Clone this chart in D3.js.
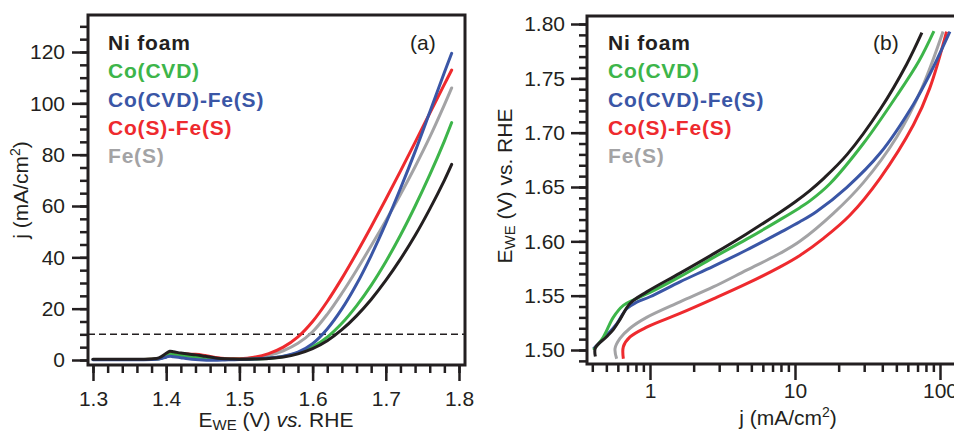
<!DOCTYPE html>
<html>
<head>
<meta charset="utf-8">
<script src="https://cdn.jsdelivr.net/npm/d3@7"></script>
<style>
body{margin:0;background:#fff;}
svg{display:block;font-family:"Liberation Sans",Arial,Helvetica,sans-serif;}
</style>
</head>
<body>
<svg id="chart" width="954" height="434"></svg>
<script>
// 시리즈 이름 / 색상
const seriesNames = ["Ni foam", "Co(CVD)", "Co(CVD)-Fe(S)", "Co(S)-Fe(S)", "Fe(S)"];
const seriesColors = ["#231f20", "#3db54a", "#3a56a6", "#ee2a2e", "#a3a3a5"];

// (a) j vs E  -- common potential grid (V vs RHE)
const potentialA = [1.30, 1.34, 1.38, 1.39, 1.40, 1.405, 1.41, 1.42, 1.43, 1.44, 1.45, 1.46, 1.47, 1.48, 1.49,
                    1.50, 1.52, 1.54, 1.56, 1.58, 1.60, 1.62, 1.64, 1.66, 1.68, 1.70, 1.72, 1.74, 1.76, 1.78, 1.79];
const niFoamA   = [0.3, 0.3, 0.4, 0.8, 2.6, 3.4, 3.2, 2.7, 2.3, 2.0, 1.6, 1.2, 0.7, 0.45, 0.35,
                   0.3, 0.4, 0.6, 1.2, 2.4, 4.4, 7.5, 11.8, 17.2, 23.6, 31.0, 39.3, 48.5, 58.8, 70, 76.2];
const coCvdA    = [0.2, 0.2, 0.3, 0.5, 1.5, 2.2, 2.1, 1.8, 1.5, 1.2, 0.9, 0.6, 0.4, 0.3, 0.3,
                   0.3, 0.4, 0.7, 1.4, 2.8, 5.1, 8.9, 14.3, 21.1, 29.1, 38.3, 48.6, 59.9, 72.1, 85.3, 92.5];
const coCvdFeSA = [0.1, 0.1, 0.2, 0.4, 1.1, 1.5, 1.3, 0.9, 0.5, 0.2, 0.0, -0.1, -0.1, 0.0, 0.1,
                   0.2, 0.4, 0.8, 1.5, 3.1, 6.4, 12.1, 19.9, 29.5, 40.7, 53.2, 66.8, 81.2, 96.5, 112, 119.5];
const coSFeSA   = [0.2, 0.2, 0.3, 0.6, 1.8, 2.5, 2.6, 2.4, 2.3, 2.2, 1.9, 1.4, 0.9, 0.6, 0.5,
                   0.5, 1.1, 2.5, 5.0, 9.0, 15, 22.8, 31.8, 41.6, 51.9, 62.6, 73.6, 84.8, 96.1, 107.4, 113];
const feSA      = [0.2, 0.2, 0.3, 0.5, 1.6, 2.4, 2.3, 2.0, 1.7, 1.4, 1.1, 0.8, 0.5, 0.4, 0.35,
                   0.4, 0.8, 1.8, 3.6, 6.5, 11, 17.8, 26, 35, 44.5, 54.3, 64.5, 75.3, 86.8, 99.4, 106];
const refCurrent = 10; // 점선 (10 mA/cm2)

// (b) E vs log j  -- 각 시리즈별 (j, E)
const niFoamJB   = [0.42, 0.42, 0.50, 0.56, 0.62, 0.73, 0.95, 1.6, 2.7, 4.6, 7.9, 10, 12.6, 15.8, 22.9, 38.9, 58.9, 75];
const niFoamEB   = [1.494, 1.502, 1.512, 1.519, 1.528, 1.543, 1.5535, 1.5705, 1.588, 1.6066, 1.6268, 1.6362, 1.6465, 1.658, 1.680, 1.722, 1.763, 1.792];
const coCvdJB    = [0.407, 0.477, 0.558, 0.655, 0.767, 1.0, 1.61, 2.73, 4.64, 7.9, 10.8, 12.6, 17.4, 29.6, 50.3, 71.6, 90.8];
const coCvdEB    = [1.500, 1.512, 1.530, 1.541, 1.546, 1.553, 1.5675, 1.585, 1.602, 1.620, 1.631, 1.637, 1.653, 1.690, 1.734, 1.766, 1.7935];
const coCvdFeSJB = [0.407, 0.503, 0.589, 0.69, 0.81, 1.0, 1.61, 2.73, 4.64, 7.86, 10.8, 14.1, 22.7, 38.6, 65.5, 85.2, 117];
const coCvdFeSEB = [1.501, 1.5136, 1.524, 1.538, 1.544, 1.549, 1.5627, 1.577, 1.592, 1.608, 1.618, 1.6275, 1.6495, 1.681, 1.726, 1.754, 1.793];
const coSFeSJB   = [0.655, 0.655, 0.728, 0.949, 1.61, 2.73, 4.64, 7.9, 10.8, 15.8, 23.9, 38.6, 65.5, 85, 111];
const coSFeSEB   = [1.492, 1.503, 1.512, 1.521, 1.5336, 1.547, 1.561, 1.5765, 1.587, 1.603, 1.624, 1.658, 1.707, 1.741, 1.793];
const feSJB      = [0.589, 0.574, 0.621, 0.728, 0.949, 1.61, 2.73, 4.64, 7.9, 10.8, 18.4, 29.6, 50.3, 75, 105];
const feSEB      = [1.492, 1.5013, 1.5106, 1.520, 1.530, 1.5443, 1.558, 1.5735, 1.589, 1.600, 1.6257, 1.654, 1.696, 1.741, 1.793];

// tick 값
const ticksAx = [1.3, 1.4, 1.5, 1.6, 1.7, 1.8];
const ticksAy = [0, 20, 40, 60, 80, 100, 120];
const ticksBx = [1, 10, 100];
const ticksBy = [1.50, 1.55, 1.60, 1.65, 1.70, 1.75, 1.80];

const INK = "#231f20";
const FONT = 21;
const svg = d3.select("#chart");
svg.append("rect").attr("width", 954).attr("height", 434).attr("fill", "#fff");

// 축 스타일 공통
function styleAxis(g, major){
    g.select(".domain").remove();
    g.selectAll(".tick line").attr("stroke", INK).attr("stroke-width", 2.5);
    g.selectAll(".tick text").attr("fill", INK).style("font-size", FONT + "px")
        .style("font-family", "'Liberation Sans', Arial, sans-serif");
    if(!major) g.selectAll(".tick text").remove();
}

function legend(x){
    seriesNames.forEach((n, i) => {
        svg.append("text")
            .attr("x", x).attr("y", 50 + i * 28.3)
            .attr("fill", seriesColors[i])
            .style("font-size", FONT + "px").style("font-weight", "bold")
            .style("letter-spacing", "0.8px")
            .text(n);
    });
}

// ---------------- panel (a) ----------------
const FA = {left: 88, right: 465, top: 15, bottom: 365};
const xA = d3.scaleLinear().domain([1.3, 1.8]).range([93, 459]);
const yA = d3.scaleLinear().domain([0, 120]).range([360, 52]);

svg.append("g").attr("transform", `translate(0,${FA.bottom})`)
    .call(d3.axisBottom(xA).tickValues(d3.range(1.30, 1.801, 0.02)).tickSize(8).tickFormat(""))
    .call(g => styleAxis(g, false));
svg.append("g").attr("transform", `translate(0,${FA.bottom})`)
    .call(d3.axisBottom(xA).tickValues(ticksAx).tickSize(16).tickPadding(10).tickFormat(d3.format(".1f")))
    .call(g => styleAxis(g, true));
svg.append("g").attr("transform", `translate(${FA.left},0)`)
    .call(d3.axisLeft(yA).tickValues(d3.range(0, 131, 5)).tickSize(8).tickFormat(""))
    .call(g => styleAxis(g, false));
svg.append("g").attr("transform", `translate(${FA.left},0)`)
    .call(d3.axisLeft(yA).tickValues(ticksAy).tickSize(16).tickPadding(7))
    .call(g => styleAxis(g, true));

// 점선 10 mA/cm2
svg.append("line")
    .attr("x1", FA.left).attr("x2", FA.right)
    .attr("y1", yA(refCurrent)).attr("y2", yA(refCurrent))
    .attr("stroke", INK).attr("stroke-width", 1.5).attr("stroke-dasharray", "7,4");

const curvesA = [niFoamA, coCvdA, coCvdFeSA, coSFeSA, feSA];
const lineA = d3.line().x(d => xA(d[0])).y(d => yA(d[1])).curve(d3.curveCatmullRom.alpha(0.5));
[4, 3, 1, 2, 0].forEach(i => {
    svg.append("path")
        .datum(potentialA.map((e, k) => [e, curvesA[i][k]]))
        .attr("d", lineA).attr("fill", "none")
        .attr("stroke", seriesColors[i]).attr("stroke-width", 3)
        .attr("stroke-linejoin", "round").attr("stroke-linecap", "round");
});

svg.append("rect")
    .attr("x", FA.left).attr("y", FA.top)
    .attr("width", FA.right - FA.left).attr("height", FA.bottom - FA.top)
    .attr("fill", "none").attr("stroke", INK).attr("stroke-width", 3);

legend(108);
svg.append("text").attr("x", 410).attr("y", 50).attr("fill", INK)
    .style("font-size", FONT + "px").text("(a)");

// x 축 제목
const tA = svg.append("text").attr("x", 276).attr("y", 427).attr("text-anchor", "middle")
    .attr("fill", INK).style("font-size", FONT + "px");
tA.append("tspan").text("E");
tA.append("tspan").attr("dy", 3).style("font-size", "15px").text("WE");
tA.append("tspan").attr("dy", -3).text(" (V) ");
tA.append("tspan").style("font-style", "italic").text("vs.");
tA.append("tspan").text(" RHE");

// y 축 제목
const yTA = svg.append("text").attr("transform", "translate(28,190) rotate(-90)")
    .attr("text-anchor", "middle").attr("fill", INK).style("font-size", FONT + "px");
yTA.append("tspan").text("j (mA/cm");
yTA.append("tspan").attr("dy", -8).style("font-size", "14px").text("2");
yTA.append("tspan").attr("dy", 8).text(")");

// ---------------- panel (b) ----------------
const FB = {left: 587, right: 958, top: 16, bottom: 364};
const xB = d3.scaleLog().domain([1, 100]).range([650, 940]);
const yB = d3.scaleLinear().domain([1.50, 1.80]).range([350, 24]);

const minorB = [0.4, 0.5, 0.6, 0.7, 0.8, 0.9, 2, 3, 4, 5, 6, 7, 8, 9, 20, 30, 40, 50, 60, 70, 80, 90];
svg.append("g").attr("transform", `translate(0,${FB.bottom})`)
    .call(d3.axisBottom(xB).tickValues(minorB).tickSize(8).tickFormat(""))
    .call(g => styleAxis(g, false));
svg.append("g").attr("transform", `translate(0,${FB.bottom})`)
    .call(d3.axisBottom(xB).tickValues(ticksBx).tickSize(16).tickPadding(3).tickFormat(d3.format("d")))
    .call(g => styleAxis(g, true));
svg.append("g").attr("transform", `translate(${FB.left},0)`)
    .call(d3.axisLeft(yB).tickValues(d3.range(1.49, 1.805, 0.01)).tickSize(8).tickFormat(""))
    .call(g => styleAxis(g, false));
svg.append("g").attr("transform", `translate(${FB.left},0)`)
    .call(d3.axisLeft(yB).tickValues(ticksBy).tickSize(16).tickPadding(6).tickFormat(d3.format(".2f")))
    .call(g => styleAxis(g, true));

const curvesB = [[niFoamJB, niFoamEB], [coCvdJB, coCvdEB], [coCvdFeSJB, coCvdFeSEB], [coSFeSJB, coSFeSEB], [feSJB, feSEB]];
const lineB = d3.line().x(d => xB(d[0])).y(d => yB(d[1])).curve(d3.curveCatmullRom.alpha(0.5));
[4, 3, 2, 1, 0].forEach(i => {
    const [js, es] = curvesB[i];
    svg.append("path")
        .datum(js.map((j, k) => [j, es[k]]))
        .attr("d", lineB).attr("fill", "none")
        .attr("stroke", seriesColors[i]).attr("stroke-width", 3)
        .attr("stroke-linejoin", "round").attr("stroke-linecap", "butt");
});

svg.append("rect")
    .attr("x", FB.left).attr("y", FB.top)
    .attr("width", FB.right - FB.left).attr("height", FB.bottom - FB.top)
    .attr("fill", "none").attr("stroke", INK).attr("stroke-width", 3);

legend(608);
svg.append("text").attr("x", 873).attr("y", 50).attr("fill", INK)
    .style("font-size", FONT + "px").text("(b)");

const tB = svg.append("text").attr("x", 788).attr("y", 425).attr("text-anchor", "middle")
    .attr("fill", INK).style("font-size", FONT + "px");
tB.append("tspan").text("j (mA/cm");
tB.append("tspan").attr("dy", -8).style("font-size", "14px").text("2");
tB.append("tspan").attr("dy", 8).text(")");

const yTB = svg.append("text").attr("transform", "translate(512,186) rotate(-90)")
    .attr("text-anchor", "middle").attr("fill", INK).style("font-size", FONT + "px");
yTB.append("tspan").text("E");
yTB.append("tspan").attr("dy", 3).style("font-size", "15px").text("WE");
yTB.append("tspan").attr("dy", -3).text(" (V) vs. RHE");
</script>
</body>
</html>
